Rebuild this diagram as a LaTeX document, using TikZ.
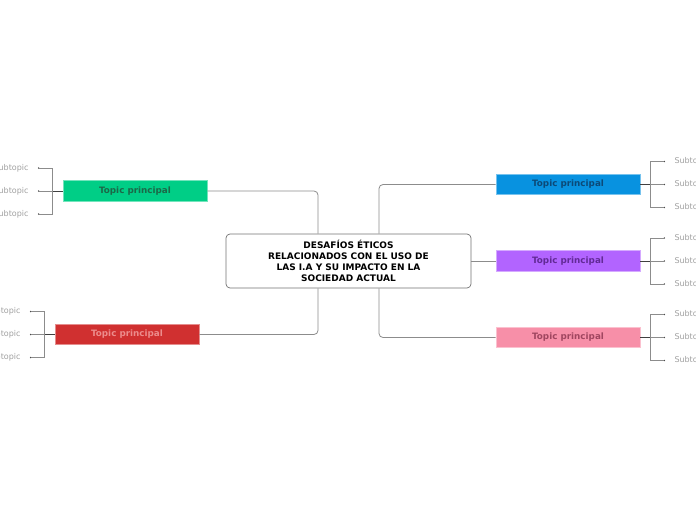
\documentclass[tikz,border=0pt]{standalone}
\usepackage{fontspec}
\setmainfont{DejaVu Sans}
\usetikzlibrary{positioning,calc}

\definecolor{linegray}{RGB}{140,140,140}
\definecolor{subgray}{RGB}{160,160,160}
\definecolor{gfill}{RGB}{0,206,134}
\definecolor{gtext}{RGB}{28,104,72}
\definecolor{bfill}{RGB}{8,146,224}
\definecolor{btext}{RGB}{12,74,120}
\definecolor{pfill}{RGB}{178,100,255}
\definecolor{ptext}{RGB}{98,42,150}
\definecolor{kfill}{RGB}{247,143,168}
\definecolor{ktext}{RGB}{160,70,96}
\definecolor{rfill}{RGB}{208,48,48}
\definecolor{rtext}{RGB}{236,140,140}

\begin{document}
\begin{tikzpicture}[
  x=1pt, y=-1pt,
  font=\fontsize{8}{10}\selectfont,
  conn/.style={draw=linegray, line width=0.8pt, rounded corners=4pt},
  joint/.style={draw=black!75, line width=1pt},
  central/.style={draw=black!55, line width=0.7pt, rounded corners=4pt, fill=white,
                  minimum width=245pt, minimum height=54pt, align=center,
                  font=\bfseries\fontsize{9}{11.2}\selectfont},
  topic/.style={minimum width=144pt, minimum height=20.5pt, inner sep=0pt,
                line width=0.6pt, font=\bfseries\fontsize{8.8}{10}\selectfont},
  sub/.style={text=subgray, inner sep=0pt, font=\fontsize{8}{10}\selectfont},
  tip/.style={fill=black!70, circle, inner sep=0pt, minimum size=1.6pt}
]
\useasboundingbox (0,0) rectangle (696,520);

\node[central] (main) at (348.5,261)
     {DESAFÍOS ÉTICOS\\RELACIONADOS CON EL USO DE\\LAS I.A Y SU IMPACTO EN LA\\SOCIEDAD ACTUAL};

% topics
\node[topic, fill=gfill, draw=gfill!55!white, text=gtext] (gre) at (135,191) {Topic principal};
\node[topic, fill=rfill, draw=rfill!55!white, text=rtext] (red) at (127,334.5) {Topic principal};
\node[topic, fill=bfill, draw=bfill!55!white, text=btext] (blu) at (568,184.5) {Topic principal};
\node[topic, fill=pfill, draw=pfill!55!white, text=ptext] (pur) at (568,261) {Topic principal};
\node[topic, fill=kfill, draw=kfill!55!white, text=ktext] (pin) at (568,337.5) {Topic principal};

% links to the central idea
\draw[conn] (gre.east) -| ([xshift=-30.5pt]main.north);
\draw[conn] (red.east) -| ([xshift=-30.5pt]main.south);
\draw[conn] (blu.west) -| ([xshift=30.5pt]main.north);
\draw[conn] (main.east) -- (pur.west);
\draw[conn] (pin.west) -| ([xshift=30.5pt]main.south);

% subtopics
\foreach \n/\d/\a/\b in {gre/-1/west/east, red/-1/west/east,
                         blu/1/east/west, pur/1/east/west, pin/1/east/west} {
  \coordinate (\n b) at ([xshift=\d*10pt]\n.\a);
  \foreach \k/\dy in {1/-23, 2/0, 3/23} {
    \coordinate (\n t\k) at ([xshift=\d*14pt, yshift=-\dy*1pt]\n b);
    \node[sub, anchor=\b] (\n s\k) at ([xshift=\d*10pt]\n t\k) {Subtopic};
    \node[tip] at (\n t\k) {};
  }
  \draw[conn, rounded corners=0pt] (\n t1) -- (\n b |- \n t1) -- (\n b |- \n t3) -- (\n t3);
  \draw[conn] (\n b) -- (\n t2);
  \draw[joint] (\n.\a) -- (\n b);
}
\end{tikzpicture}
\end{document}
